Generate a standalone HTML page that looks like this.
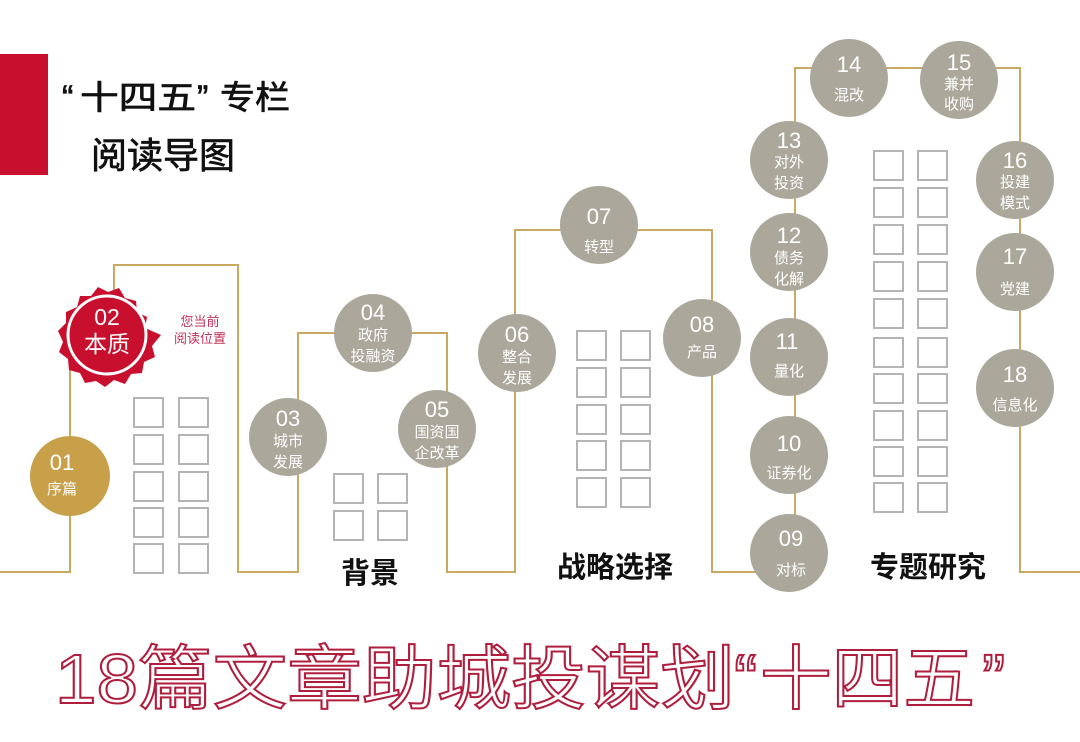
<!DOCTYPE html>
<html><head><meta charset="utf-8"><style>
html,body{margin:0;padding:0;background:#fff;}
svg{display:block;}
text{font-family:"Liberation Sans","Noto Sans CJK SC",sans-serif;}
.cjk{font-family:"Noto Sans CJK SC",sans-serif;}
.n{fill:#fff;font-size:22px;text-anchor:middle;}
.l{fill:#fff;font-size:15px;text-anchor:middle;}
.w{fill:none;stroke:#b4b4b4;stroke-width:2;}
.big{font-size:70px;fill:#fff;stroke:#b01e3e;stroke-width:2;}
</style></head><body>
<svg width="1080" height="742" viewBox="0 0 1080 742" xmlns="http://www.w3.org/2000/svg">
<rect x="0" y="54" width="48" height="121" fill="#c8102e"/>
<g fill="#111" stroke="#111" stroke-width="0.7">
<text x="62" y="109" font-size="34">“</text>
<text class="cjk" x="80" y="109" font-size="33" textLength="116" lengthAdjust="spacingAndGlyphs">十四五</text>
<text x="197" y="109" font-size="34">”</text>
<text class="cjk" x="220" y="109" font-size="33" textLength="70" lengthAdjust="spacingAndGlyphs">专栏</text>
<text class="cjk" x="91" y="168" font-size="36">阅读导图</text>
</g>

<polyline fill="none" stroke="#c9a862" stroke-width="2" points="0,572 70,572 70,340 114,340 114,265 238,265 238,572 298,572 298,333 447,333 447,572 515,572 515,230 712,230 712,572 795,572 795,68 1020,68 1020,572 1080,572"/>

<g class="w">
<rect x="134" y="398" width="29" height="29"/><rect x="179" y="398" width="29" height="29"/>
<rect x="134" y="435" width="29" height="29"/><rect x="179" y="435" width="29" height="29"/>
<rect x="134" y="472" width="29" height="29"/><rect x="179" y="472" width="29" height="29"/>
<rect x="134" y="508" width="29" height="29"/><rect x="179" y="508" width="29" height="29"/>
<rect x="134" y="544" width="29" height="29"/><rect x="179" y="544" width="29" height="29"/>
<rect x="334" y="474" width="29" height="29"/><rect x="378" y="474" width="29" height="29"/>
<rect x="334" y="511" width="29" height="29"/><rect x="378" y="511" width="29" height="29"/>
<rect x="577" y="331" width="29" height="29"/><rect x="621" y="331" width="29" height="29"/>
<rect x="577" y="368" width="29" height="29"/><rect x="621" y="368" width="29" height="29"/>
<rect x="577" y="405" width="29" height="29"/><rect x="621" y="405" width="29" height="29"/>
<rect x="577" y="441" width="29" height="29"/><rect x="621" y="441" width="29" height="29"/>
<rect x="577" y="478" width="29" height="29"/><rect x="621" y="478" width="29" height="29"/>
<rect x="874" y="151" width="29" height="29"/><rect x="918" y="151" width="29" height="29"/>
<rect x="874" y="188" width="29" height="29"/><rect x="918" y="188" width="29" height="29"/>
<rect x="874" y="225" width="29" height="29"/><rect x="918" y="225" width="29" height="29"/>
<rect x="874" y="262" width="29" height="29"/><rect x="918" y="262" width="29" height="29"/>
<rect x="874" y="299" width="29" height="29"/><rect x="918" y="299" width="29" height="29"/>
<rect x="874" y="338" width="29" height="29"/><rect x="918" y="338" width="29" height="29"/>
<rect x="874" y="374" width="29" height="29"/><rect x="918" y="374" width="29" height="29"/>
<rect x="874" y="411" width="29" height="29"/><rect x="918" y="411" width="29" height="29"/>
<rect x="874" y="447" width="29" height="29"/><rect x="918" y="447" width="29" height="29"/>
<rect x="874" y="483" width="29" height="29"/><rect x="918" y="483" width="29" height="29"/>
</g>

<circle cx="70" cy="476" r="40" fill="#c9a04a"/>
<text class="n" x="62" y="470">01</text><text class="l" x="62" y="494">序篇</text>

<polygon fill="#c8102e" points="
161,335 152,346 155,357 144,362 142,373 131,374 125,384 114,380 105,387 96,381 85,383 80,373 69,370 68,359 59,352 63,342 58,331 66,323 66,312 77,307 80,296 91,296 98,287 108,292 119,288 125,298 136,301 137,312 147,317 145,328"/>
<circle cx="107" cy="335" r="39" fill="#c8102e" stroke="#fff" stroke-width="3"/>
<text class="n" x="107" y="325" style="font-size:23px">02</text>
<text class="n" x="107" y="352" style="font-size:23px">本质</text>
<text x="200" y="326" font-size="13" fill="#c0305a" text-anchor="middle">您当前</text>
<text x="200" y="343" font-size="13" fill="#c0305a" text-anchor="middle">阅读位置</text>

<g fill="#aba89b">
<circle cx="288" cy="437" r="39"/><circle cx="373" cy="333" r="39"/><circle cx="437" cy="429" r="39"/>
<circle cx="517" cy="353" r="39"/><circle cx="599" cy="225" r="39"/><circle cx="702" cy="338" r="39"/>
<circle cx="789" cy="553" r="39"/><circle cx="789" cy="455" r="39"/><circle cx="789" cy="357" r="39"/>
<circle cx="789" cy="252" r="39"/><circle cx="789" cy="160" r="39"/><circle cx="849" cy="78" r="39"/>
<circle cx="959" cy="80" r="39"/><circle cx="1015" cy="180" r="39"/><circle cx="1015" cy="272" r="39"/>
<circle cx="1015" cy="388" r="39"/>
</g>
<text class="n" x="288" y="426">03</text><text class="l" x="288" y="446">城市</text><text class="l" x="288" y="467">发展</text>
<text class="n" x="373" y="320">04</text><text class="l" x="373" y="340">政府</text><text class="l" x="373" y="361">投融资</text>
<text class="n" x="437" y="417">05</text><text class="l" x="437" y="437">国资国</text><text class="l" x="437" y="458">企改革</text>
<text class="n" x="517" y="342">06</text><text class="l" x="517" y="362">整合</text><text class="l" x="517" y="383">发展</text>
<text class="n" x="599" y="224">07</text><text class="l" x="599" y="252">转型</text>
<text class="n" x="702" y="332">08</text><text class="l" x="702" y="357">产品</text>
<text class="n" x="791" y="546">09</text><text class="l" x="791" y="575">对标</text>
<text class="n" x="789" y="451">10</text><text class="l" x="789" y="478">证券化</text>
<text class="n" x="787" y="349">11</text><text class="l" x="789" y="376">量化</text>
<text class="n" x="789" y="243">12</text><text class="l" x="789" y="263">债务</text><text class="l" x="789" y="284">化解</text>
<text class="n" x="789" y="148">13</text><text class="l" x="789" y="167">对外</text><text class="l" x="789" y="188">投资</text>
<text class="n" x="849" y="72">14</text><text class="l" x="849" y="100">混改</text>
<text class="n" x="959" y="70">15</text><text class="l" x="959" y="89">兼并</text><text class="l" x="959" y="109">收购</text>
<text class="n" x="1015" y="168">16</text><text class="l" x="1015" y="187">投建</text><text class="l" x="1015" y="208">模式</text>
<text class="n" x="1015" y="264">17</text><text class="l" x="1015" y="294">党建</text>
<text class="n" x="1015" y="382">18</text><text class="l" x="1015" y="410">信息化</text>

<text x="370" y="583" font-size="29" font-weight="bold" fill="#111" text-anchor="middle">背景</text>
<text x="615" y="577" font-size="29" font-weight="bold" fill="#111" text-anchor="middle">战略选择</text>
<text x="928" y="577" font-size="29" font-weight="bold" fill="#111" text-anchor="middle">专题研究</text>

<text class="big" x="55" y="703" textLength="680" lengthAdjust="spacingAndGlyphs">18篇文章助城投谋划</text>
<text class="big" x="734" y="703">“</text>
<text class="big cjk" x="760" y="703" textLength="215" lengthAdjust="spacingAndGlyphs">十四五</text>
<text class="big" x="982" y="703">”</text>
</svg>
</body></html>
